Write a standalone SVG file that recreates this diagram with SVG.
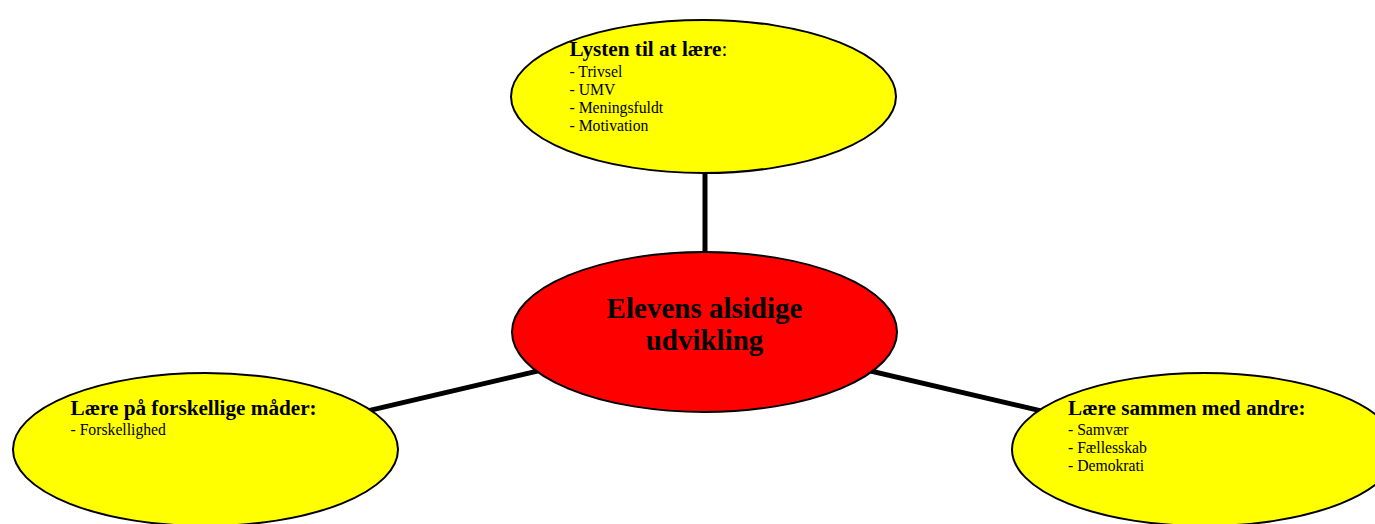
<svg xmlns="http://www.w3.org/2000/svg" width="1375" height="524" viewBox="0 0 1375 524">
<style>
.conn{stroke:#000;stroke-width:5;fill:none}
.leaf{fill:#ffff00;stroke:#000;stroke-width:2}
.hub{fill:#ff0000;stroke:#000;stroke-width:2}
.t{font-family:"Liberation Serif","Times New Roman",serif;fill:#000}
.h{font-size:21.2px;font-weight:bold}
.i{font-size:15.7px}
.r{font-size:21.2px;font-weight:normal}
.c{font-size:29px;font-weight:bold;text-anchor:middle}
</style>
<rect width="1375" height="524" fill="#fff"/>
<g id="connectors">
<line class="conn" x1="705" y1="170" x2="705" y2="255"/>
<line class="conn" x1="205" y1="449" x2="704" y2="332"/>
<line class="conn" x1="704" y1="332" x2="1204" y2="449"/>
</g>
<g id="node-top">
<ellipse class="leaf" cx="703.5" cy="96.5" rx="192.5" ry="76.5"/>
<text class="t" x="569.5" y="56"><tspan class="h">Lysten til at lære</tspan><tspan class="r">:</tspan></text>
<text class="t i" x="569.5" y="77">- Trivsel</text>
<text class="t i" x="569.5" y="95">- UMV</text>
<text class="t i" x="569.5" y="113">- Meningsfuldt</text>
<text class="t i" x="569.5" y="131">- Motivation</text>
</g>
<g id="node-center">
<ellipse class="hub" cx="704.5" cy="332" rx="192.5" ry="80"/>
<text class="t c" x="704.5" y="318">Elevens alsidige</text>
<text class="t c" x="704.5" y="350">udvikling</text>
</g>
<g id="node-left">
<ellipse class="leaf" cx="205.5" cy="449.5" rx="192.5" ry="76.5"/>
<text class="t h" x="70.5" y="415">Lære på forskellige måder:</text>
<text class="t i" x="70.5" y="435">- Forskellighed</text>
</g>
<g id="node-right">
<ellipse class="leaf" cx="1204.5" cy="449.5" rx="192.5" ry="76.5"/>
<text class="t h" x="1068" y="415">Lære sammen med andre:</text>
<text class="t i" x="1068" y="435">- Samvær</text>
<text class="t i" x="1068" y="453">- Fællesskab</text>
<text class="t i" x="1068" y="471">- Demokrati</text>
</g>
</svg>
